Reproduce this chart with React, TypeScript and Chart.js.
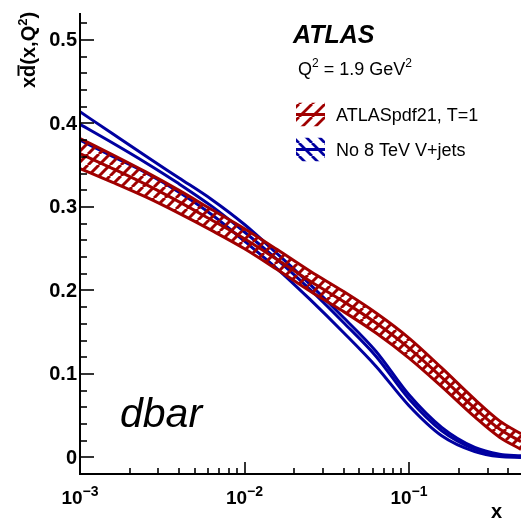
import React, { useEffect, useRef } from 'react';
import { Chart, registerables } from 'chart.js';

Chart.register(...registerables);

// ---- data ----
const xValues = [0.001, 0.00158, 0.00251, 0.00398, 0.00631, 0.01, 0.0158, 0.0251, 0.0398, 0.0631, 0.1, 0.158, 0.251, 0.355, 0.4794];

const redUpper = [0.382, 0.3625, 0.342, 0.3202, 0.2969, 0.274, 0.249, 0.223, 0.199, 0.173, 0.143, 0.1072, 0.0695, 0.0438, 0.0283];
const redCentral = [0.364, 0.346, 0.327, 0.3064, 0.2844, 0.262, 0.237, 0.211, 0.187, 0.161, 0.131, 0.096, 0.059, 0.034, 0.019];
const redLower = [0.346, 0.3295, 0.312, 0.2926, 0.2719, 0.25, 0.225, 0.199, 0.175, 0.149, 0.119, 0.0848, 0.0485, 0.0242, 0.0097];

const blueUpper = [0.414, 0.3876, 0.361, 0.335, 0.309, 0.279, 0.244, 0.207, 0.168, 0.127, 0.075, 0.036, 0.012, 0.004, 0.002];
const blueCentral = [0.399, 0.3766, 0.353, 0.328, 0.301, 0.27, 0.237, 0.201, 0.162, 0.121, 0.07, 0.032, 0.01, 0.003, 0.001];
const blueLower = [0.38, 0.3606, 0.341, 0.318, 0.291, 0.259, 0.226, 0.189, 0.15, 0.109, 0.062, 0.026, 0.007, 0.001, 0.0];

const X_MIN = 0.001;
const X_MAX = 0.4794;
const Y_MIN = -0.0198;
const Y_MAX = 0.5323;

const yMajorTicks = [0, 0.1, 0.2, 0.3, 0.4, 0.5];
const yTickLabels = ['0', '0.1', '0.2', '0.3', '0.4', '0.5'];
const xDecades = [-3, -2, -1];
const xTickLabelExp = ['\u22123', '\u22122', '\u22121'];

const legendLabels = ['ATLASpdf21, T=1', 'No 8 TeV V+jets'];

const RED = '#a00000';
const BLUE = '#0000a0';
const FONT = '"Liberation Sans", Arial, Helvetica, sans-serif';

function makeHatch(color: string, dir: number, size = 11, lw = 2.6): CanvasPattern | string {
  const c = document.createElement('canvas');
  c.width = size;
  c.height = size;
  const g = c.getContext('2d');
  if (!g) return color;
  g.strokeStyle = color;
  g.lineWidth = lw;
  g.beginPath();
  for (let k = -1; k <= 1; k++) {
    if (dir > 0) {
      g.moveTo(k * size, size);
      g.lineTo(k * size + size, 0);
    } else {
      g.moveTo(k * size, 0);
      g.lineTo(k * size + size, size);
    }
  }
  g.stroke();
  const p = g.createPattern(c, 'repeat');
  return p || color;
}

function pts(arr: number[]) {
  return xValues.map((x, i) => ({ x, y: arr[i] }));
}

function drawSupText(ctx: CanvasRenderingContext2D, parts: { t: string; sup?: boolean }[], x: number, y: number, baseFont: string, supFont: string, raise: number) {
  let cx = x;
  for (const p of parts) {
    ctx.font = p.sup ? supFont : baseFont;
    ctx.fillText(p.t, cx, p.sup ? y - raise : y);
    cx += ctx.measureText(p.t).width;
  }
  return cx;
}

function measureParts(ctx: CanvasRenderingContext2D, parts: { t: string; sup?: boolean }[], baseFont: string, supFont: string) {
  let w = 0;
  for (const p of parts) {
    ctx.font = p.sup ? supFont : baseFont;
    w += ctx.measureText(p.t).width;
  }
  return w;
}

export default function App() {
  const ref = useRef<HTMLCanvasElement>(null);

  useEffect(() => {
    document.body.style.margin = '0';
    const canvas = ref.current;
    if (!canvas) return;
    const redHatch = makeHatch(RED, 1, 11, 3);
    const redHatchLegend = makeHatch(RED, 1, 13, 2.8);
    const blueHatchLegend = makeHatch(BLUE, -1, 13, 2.8);

    const framePlugin = {
      id: 'rootFrame',
      afterDatasetsDraw(chart: any) {
        const ctx: CanvasRenderingContext2D = chart.ctx;
        const area = chart.chartArea;
        const xs = chart.scales.x;
        const ys = chart.scales.y;
        ctx.save();
        ctx.fillStyle = '#000';
        ctx.strokeStyle = '#000';

        // axis lines
        ctx.lineWidth = 2;
        ctx.beginPath();
        ctx.moveTo(area.left, area.top);
        ctx.lineTo(area.left, area.bottom);
        ctx.lineTo(area.right, area.bottom);
        ctx.stroke();

        // y ticks (inward)
        ctx.lineWidth = 1.6;
        for (let k = -1; k <= 26; k++) {
          const v = k * 0.02;
          if (v < Y_MIN || v > Y_MAX) continue;
          const py = Math.round(ys.getPixelForValue(v));
          const len = k % 5 === 0 ? 14 : 7;
          ctx.beginPath();
          ctx.moveTo(area.left, py);
          ctx.lineTo(area.left + len, py);
          ctx.stroke();
        }
        // x ticks (inward)
        for (const d of xDecades) {
          for (let m = 1; m <= 9; m++) {
            const v = m * Math.pow(10, d);
            if (v < X_MIN * 0.999 || v > X_MAX) continue;
            const px = Math.round(xs.getPixelForValue(v));
            const len = m === 1 ? 12 : 6;
            ctx.beginPath();
            ctx.moveTo(px, area.bottom);
            ctx.lineTo(px, area.bottom - len);
            ctx.stroke();
          }
        }

        // y tick labels
        ctx.font = `bold 20px ${FONT}`;
        ctx.textAlign = 'right';
        ctx.textBaseline = 'middle';
        yMajorTicks.forEach((v, i) => {
          ctx.fillText(yTickLabels[i], area.left - 3, ys.getPixelForValue(v) + 1);
        });

        // x tick labels 10^n
        ctx.textAlign = 'left';
        ctx.textBaseline = 'alphabetic';
        const xb = `bold 19px ${FONT}`;
        const xs2 = `bold 14px ${FONT}`;
        xDecades.forEach((d, i) => {
          const parts = [{ t: '10' }, { t: xTickLabelExp[i], sup: true }];
          const w = measureParts(ctx, parts, xb, xs2);
          const px = xs.getPixelForValue(Math.pow(10, d));
          drawSupText(ctx, parts, px - w / 2, 504, xb, xs2, 8);
        });

        // x axis title
        ctx.font = `bold 20px ${FONT}`;
        ctx.fillText('x', 491, 518);

        // y axis title (rotated)
        ctx.save();
        ctx.translate(35, 88);
        ctx.rotate(-Math.PI / 2);
        const tb = `bold 20px ${FONT}`;
        const ts = `bold 13px ${FONT}`;
        ctx.font = tb;
        let cx = 0;
        ctx.fillText('x', cx, 0);
        cx += ctx.measureText('x').width;
        const wd = ctx.measureText('d').width;
        ctx.fillText('d', cx, 0);
        ctx.lineWidth = 2;
        ctx.beginPath();
        ctx.moveTo(cx + 1, -16.5);
        ctx.lineTo(cx + wd - 0.5, -16.5);
        ctx.stroke();
        cx += wd;
        drawSupText(ctx, [{ t: '(x,Q' }, { t: '2', sup: true }, { t: ')' }], cx, 0, tb, ts, 8);
        ctx.restore();

        // ATLAS label
        ctx.font = `italic bold 25px ${FONT}`;
        ctx.fillText('ATLAS', 293, 43);

        // Q^2 label
        drawSupText(
          ctx,
          [{ t: 'Q' }, { t: '2', sup: true }, { t: ' = 1.9 GeV' }, { t: '2', sup: true }],
          298,
          75,
          `18px ${FONT}`,
          `12px ${FONT}`,
          8
        );

        // legend
        const entries = [
          { color: RED, pat: redHatchLegend, yc: 114.5, label: legendLabels[0] },
          { color: BLUE, pat: blueHatchLegend, yc: 149.5, label: legendLabels[1] },
        ];
        for (const e of entries) {
          const bx = 296, bw = 29, bh = 24;
          const by = e.yc - bh / 2;
          ctx.save();
          ctx.beginPath();
          ctx.rect(bx, by, bw, bh);
          ctx.clip();
          ctx.fillStyle = e.pat as any;
          ctx.fillRect(bx, by, bw, bh);
          ctx.restore();
          ctx.strokeStyle = e.color;
          ctx.lineWidth = 3;
          ctx.beginPath();
          ctx.moveTo(bx, e.yc);
          ctx.lineTo(bx + bw, e.yc);
          ctx.stroke();
          ctx.fillStyle = '#000';
          ctx.font = `18px ${FONT}`;
          ctx.fillText(e.label, 336, e.yc + 6.5);
        }

        // dbar label
        ctx.font = `italic 41px ${FONT}`;
        ctx.fillText('dbar', 120, 427);

        ctx.restore();
      },
    };

    const common = {
      pointRadius: 0,
      borderWidth: 3,
      cubicInterpolationMode: 'monotone' as const,
    };

    const chart = new Chart(canvas, {
      type: 'line',
      data: {
        datasets: [
          { ...common, label: 'red upper', data: pts(redUpper), borderColor: RED, backgroundColor: redHatch as any, fill: '+1' },
          { ...common, label: 'red lower', data: pts(redLower), borderColor: RED, fill: false },
          { ...common, label: 'red central', data: pts(redCentral), borderColor: RED, fill: false },
          { ...common, label: 'blue upper', data: pts(blueUpper), borderColor: BLUE, fill: false },
          { ...common, label: 'blue central', data: pts(blueCentral), borderColor: BLUE, fill: false },
          { ...common, label: 'blue lower', data: pts(blueLower), borderColor: BLUE, fill: false },
        ],
      },
      options: {
        responsive: false,
        animation: false,
        devicePixelRatio: 1,
        layout: { padding: { left: 80, right: 0, top: 13, bottom: 47 } },
        plugins: { legend: { display: false }, tooltip: { enabled: false } },
        scales: {
          x: { type: 'logarithmic', min: X_MIN, max: X_MAX, display: false },
          y: { type: 'linear', min: Y_MIN, max: Y_MAX, display: false },
        },
      },
      plugins: [framePlugin],
    });
    return () => chart.destroy();
  }, []);

  return <canvas ref={ref} width={521} height={521} style={{ display: 'block' }} />;
}
